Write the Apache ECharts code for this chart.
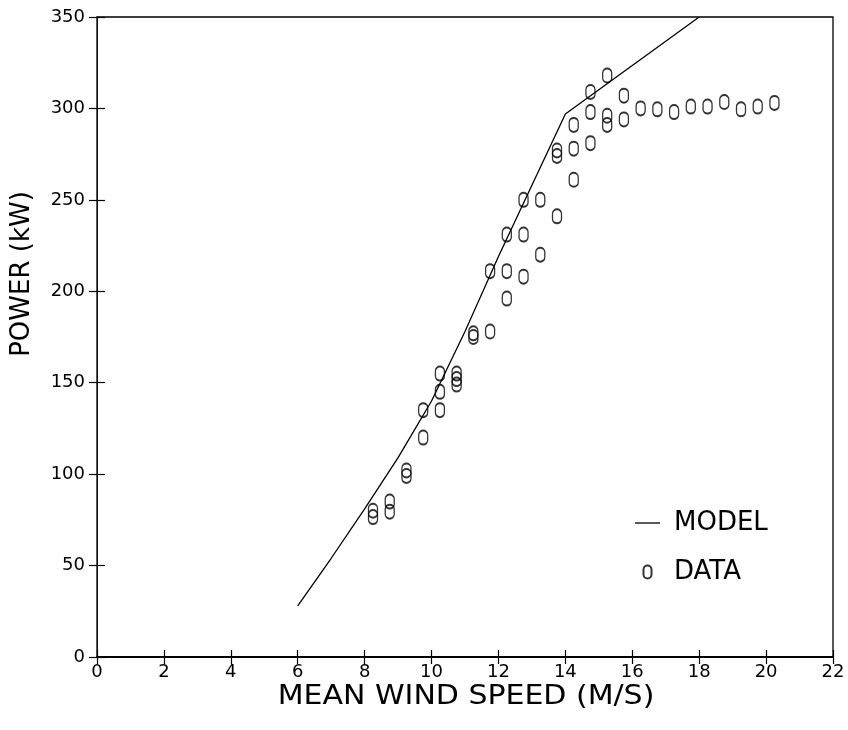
<!DOCTYPE html>
<html><head><meta charset="utf-8">
<script src="https://cdn.jsdelivr.net/npm/echarts@6/dist/echarts.min.js"></script>
<style>html,body{margin:0;padding:0;background:#fff}#c{width:848px;height:730px}</style>
</head><body><div id="c"></div>
<script>
// Tick settings
const xMin = 0, xMax = 22, xStep = 2;
const yMin = 0, yMax = 350, yStep = 50;

// MODEL curve (mean wind speed m/s, power kW)
const modelSpeed = [6, 7, 8, 9, 10, 11, 12, 13, 14, 18];
const modelPower = [28, 54, 81, 109, 140, 178, 219, 258, 297, 350];

// DATA points
const dataSpeed = [8.25, 8.25, 8.75, 8.75, 9.25, 9.25, 9.75, 9.75,
  10.25, 10.25, 10.25, 10.75, 10.75, 10.75, 11.25, 11.25, 11.75, 11.75,
  12.25, 12.25, 12.25, 12.75, 12.75, 12.75, 13.25, 13.25, 13.75, 13.75, 13.75,
  14.25, 14.25, 14.25, 14.75, 14.75, 14.75, 15.25, 15.25, 15.25, 15.75, 15.75,
  16.25, 16.75, 17.25, 17.75, 18.25, 18.75, 19.25, 19.75, 20.25];
const dataPower = [80, 76.5, 85, 79.5, 102, 99, 135, 120,
  155, 145, 135, 155, 152, 149, 177, 175, 211, 178,
  231, 211, 196, 250, 231, 208, 250, 220, 277, 274, 241,
  291, 278, 261, 309, 298, 281, 318, 296, 291, 307, 294,
  300, 299.5, 298, 301, 301, 303.5, 299.5, 301, 303];

const xTitle = 'MEAN WIND SPEED (M/S)';
const yTitle = 'POWER (kW)';
const legendNames = ['MODEL', 'DATA'];

const FONT = 'DejaVu Sans';
const marker = 'path://M4,0 C6.2,0 8,1.8 8,4 L8,9 C8,11.2 6.2,13 4,13 C1.8,13 0,11.2 0,9 L0,4 C0,1.8 1.8,0 4,0 Z';
const dashIcon = 'path://M0,0 L25,0 L25,1.3 L0,1.3 Z';

const gridRect = {left: 97, right: 15, top: 17, bottom: 73};

function xAx(gi, inside) {
  return {
    type: 'value', gridIndex: gi, min: xMin, max: xMax, interval: xStep,
    axisLine: {show: true, onZero: false, lineStyle: {color: '#000', width: 1.5}},
    axisTick: {show: true, inside: inside, length: 7, lineStyle: {color: '#000', width: 1.2}},
    axisLabel: {show: !inside, fontFamily: FONT, fontSize: 18, color: '#000', margin: 6},
    splitLine: {show: false}
  };
}
function yAx(gi, inside) {
  return {
    type: 'value', gridIndex: gi, min: yMin, max: yMax, interval: yStep,
    axisLine: {show: true, onZero: false, lineStyle: {color: '#111', width: 1}},
    axisTick: {show: true, inside: inside, length: 8, lineStyle: {color: '#000', width: 1.2}},
    axisLabel: {show: !inside, fontFamily: FONT, fontSize: 18, color: '#000', margin: 12},
    splitLine: {show: false}
  };
}

const chart = echarts.init(document.getElementById('c'), null, {renderer: 'canvas'});
chart.setOption({
  animation: false,
  backgroundColor: '#fff',
  grid: [
    Object.assign({show: true, borderColor: '#000', borderWidth: 1.3, backgroundColor: 'transparent'}, gridRect),
    Object.assign({show: false}, gridRect)
  ],
  xAxis: [xAx(0, false), xAx(1, true)],
  yAxis: [yAx(0, false), yAx(1, true)],
  legend: {
    orient: 'vertical', left: 630, top: 505, itemWidth: 25, itemHeight: 13, itemGap: 23,
    selectedMode: false,
    data: [{name: legendNames[0], icon: dashIcon}, {name: legendNames[1]}],
    textStyle: {fontFamily: FONT, fontSize: 26, color: '#000', lineHeight: 25, padding: [0, 0, 0, 9]}
  },
  graphic: [
    {type: 'text', x: 466, y: 697, scaleX: 1.11,
     style: {text: xTitle, fontFamily: FONT, fontSize: 27, fill: '#000', align: 'center', verticalAlign: 'middle'}},
    {type: 'text', x: 22, y: 274, rotation: Math.PI / 2,
     style: {text: yTitle, fontFamily: FONT, fontSize: 26, fill: '#000', align: 'center', verticalAlign: 'middle'}}
  ],
  series: [
    {
      name: legendNames[0], type: 'line', xAxisIndex: 0, yAxisIndex: 0,
      data: modelSpeed.map((s, i) => [s, modelPower[i]]),
      symbol: 'none', lineStyle: {color: '#000', width: 1.3}, itemStyle: {color: '#000'}, clip: true
    },
    {
      name: legendNames[1], type: 'scatter', xAxisIndex: 0, yAxisIndex: 0,
      data: dataSpeed.map((s, i) => [s, dataPower[i]]),
      symbol: marker, symbolSize: [9, 14],
      itemStyle: {color: 'rgba(0,0,0,0)', borderColor: '#000', borderWidth: 1.6}
    }
  ]
});
</script></body></html>
